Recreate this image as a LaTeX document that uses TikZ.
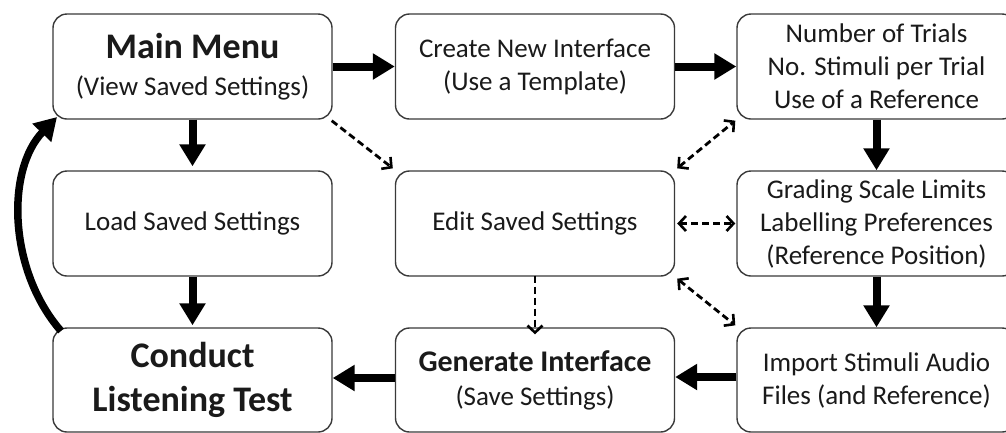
\documentclass[tikz,border=0pt]{standalone}
\usepackage{fontspec}
\setmainfont{Carlito}
\usetikzlibrary{arrows.meta}
\definecolor{boxgray}{HTML}{3A3A3A}
\definecolor{textgray}{HTML}{1A1A1A}
\begin{document}
\begin{tikzpicture}[x=1pt,y=-1pt,
  box/.style={draw=boxgray, line width=1.4pt, rounded corners=14pt,
    minimum width=279pt, minimum height=105pt, inner sep=0pt, align=center,
    text=textgray, font=\fontsize{27}{33}\selectfont},
  bigarrow/.style={line width=8pt, -{Triangle[width=25pt,length=22pt]}},
  barb/.tip={Straight Barb[length=7pt,width=15pt,line width=2.6pt]},
  dasharrow/.style={line width=2.8pt, dash pattern=on 7pt off 4pt, -barb},
  ddasharrow/.style={line width=2.8pt, dash pattern=on 7pt off 4pt, barb-barb}
]
\useasboundingbox (0,0) rectangle (1006,432);
\fill[white] (0,0) rectangle (1006,432);

\node[box] (main) at (192.5,66.5) {{\bfseries\fontsize{36}{40}\selectfont Main Menu}\\[4pt](View Saved Settings)};
\node[box] (create) at (535,66.5) {Create New Interface\\(Use a Template)};
\node[box] (trials) at (876.5,66.5) {Number of Trials\\No. Stimuli per Trial\\Use of a Reference};
\node[box] (load) at (192.5,223.5) {Load Saved Settings};
\node[box] (edit) at (535,223.5) {Edit Saved Settings};
\node[box] (grading) at (876.5,223.5) {Grading Scale Limits\\Labelling Preferences\\(Reference Position)};
\node[box, minimum height=104pt, font=\bfseries\fontsize{36}{44}\selectfont] (conduct) at (192.5,380) {Conduct\\Listening Test};
\node[box, minimum height=104pt] (generate) at (535,380) {{\bfseries\fontsize{30}{33}\selectfont Generate Interface}\\[1pt](Save Settings)};
\node[box, minimum height=104pt] (import) at (876.5,380) {Import Stimuli Audio\\Files (and Reference)};

\coordinate (cstart) at (61,331);
\coordinate (cend) at (57,117);

\draw[bigarrow] (main.east) -- (create.west);
\draw[bigarrow] (create.east) -- (trials.west);
\draw[bigarrow] (main.south) -- ([yshift=4pt]load.north);
\draw[bigarrow] (load.south) -- ([yshift=2pt]conduct.north);
\draw[bigarrow] (trials.south) -- (grading.north);
\draw[bigarrow] (grading.south) -- (import.north);
\draw[bigarrow] ([yshift=3pt]import.west) -- ([yshift=3pt]generate.east);
\draw[bigarrow] ([yshift=2pt]generate.west) -- ([yshift=2pt]conduct.west -| conduct.east);
\draw[line width=7.5pt, -{Triangle[width=25pt,length=22pt]}] (cstart) .. controls (8,270) and (6,170) .. (cend);

\draw[dasharrow] ([shift={(-1,1)}]main.south east) -- ([shift={(-2,-2)}]edit.north west);
\draw[dasharrow] ([yshift=1pt]edit.south) -- ([yshift=-7pt]generate.north);
\draw[ddasharrow] ([shift={(2,-2)}]edit.north east) -- ([shift={(-1,1)}]trials.south west);
\draw[ddasharrow] ([xshift=2pt]edit.east) -- ([xshift=-1pt]grading.west);
\draw[ddasharrow] ([shift={(2,2)}]edit.south east) -- ([shift={(-1,-2)}]import.north west);
\end{tikzpicture}
\end{document}
